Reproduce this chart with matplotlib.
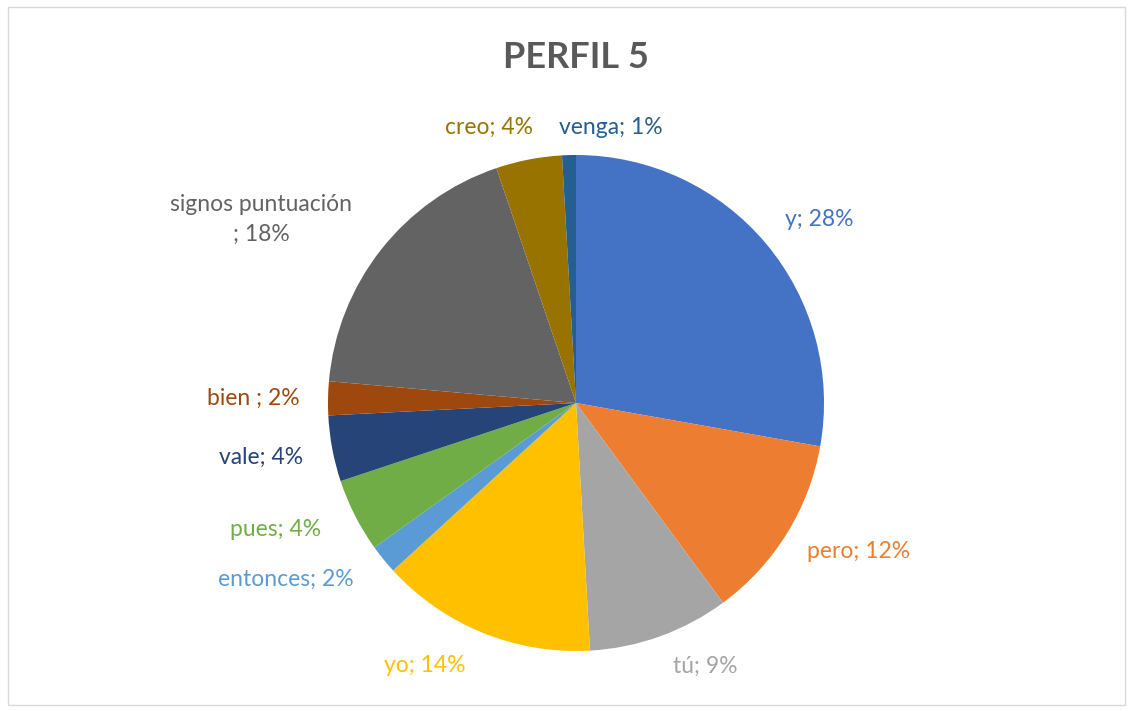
""" Perfil 5 pie """
import matplotlib
matplotlib.use("Agg")
import matplotlib.pyplot as plt
from matplotlib.patches import Rectangle

labels = ["y", "pero", "tú", "yo", "entonces", "pues", "vale", "bien ",
          "signos puntuación\n", "creo", "venga"]
shares = [27.8, 12.1, 9.2, 14.1, 1.9, 4.8, 4.3, 2.2, 18.4, 4.3, 0.9]
pct_text = ["28%", "12%", "9%", "14%", "2%", "4%", "4%", "2%", "18%", "4%", "1%"]
colors = ["#4472C4", "#ED7D31", "#A5A5A5", "#FFC000", "#5B9BD5", "#70AD47",
          "#264478", "#9E480E", "#636363", "#997300", "#255E91"]


def main():
    """ function """
    plt.rcParams["font.family"] = ["Lato", "DejaVu Sans"]
    fig = plt.figure(figsize=(11.33, 7.11), dpi=100)
    fig.patches.append(Rectangle((8 / 1133, 6 / 711), 1117 / 1133, 698 / 711,
                                 transform=fig.transFigure, fill=False,
                                 edgecolor="#D9D9D9", linewidth=1))
    r = 248
    cx, cy = 576, 403
    ax = fig.add_axes([(cx - r) / 1133, (711 - cy - r) / 711, 2 * r / 1133, 2 * r / 711])
    ax.pie(shares, colors=colors, startangle=90, counterclock=False,
           wedgeprops={"linewidth": 0})
    ax.set_xlim(-1, 1)
    ax.set_ylim(-1, 1)
    ax.set_aspect("equal")
    ax.axis("off")

    # label placement (in pie radius units)
    spots = [(0.98, 0.74), (1.14, -0.60), (0.52, -1.06), (-0.61, -1.06),
             (-1.17, -0.71), (-1.21, -0.51), (-1.27, -0.22), (-1.30, 0.02),
             (-1.27, 0.74), (-0.35, 1.11), (0.14, 1.11)]
    for lab, pc, col, (x, y) in zip(labels, pct_text, colors, spots):
        ax.text(x, y, lab + "; " + pc, color=col, fontsize=16.5, ha="center",
                va="center", linespacing=1.5)

    fig.text(cx / 1133, 1 - 58 / 711, "PERFIL 5", ha="center", va="center",
             fontsize=26, fontweight="bold", color="#595959")
    fig.savefig("out.png", dpi=100)


main()
